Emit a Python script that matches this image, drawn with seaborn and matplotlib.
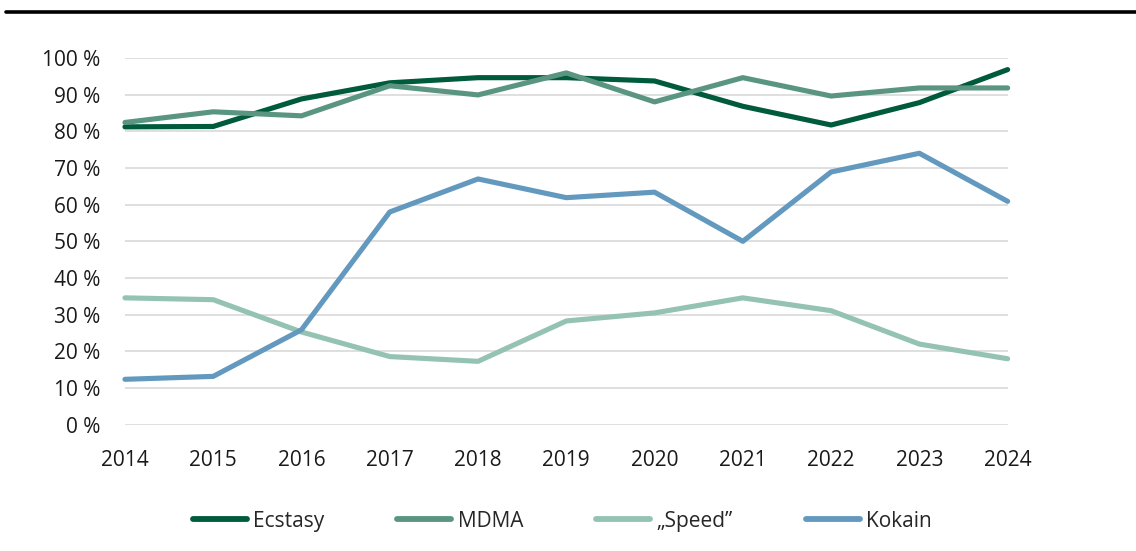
import matplotlib
matplotlib.use("Agg")
import matplotlib.pyplot as plt
import seaborn as sns
import pandas as pd
from matplotlib.lines import Line2D
from matplotlib.ticker import FuncFormatter

years = [2014, 2015, 2016, 2017, 2018, 2019, 2020, 2021, 2022, 2023, 2024]
ecstasy = [81.2, 81.3, 88.8, 93.2, 94.6, 94.6, 93.7, 86.8, 81.7, 87.8, 96.8]
mdma = [82.4, 85.3, 84.2, 92.4, 89.9, 95.9, 88.0, 94.6, 89.6, 91.8, 91.8]
speed = [34.6, 34.1, 25.3, 18.6, 17.3, 28.3, 30.5, 34.6, 31.1, 22.0, 18.0]
kokain = [12.4, 13.2, 25.9, 58.0, 67.0, 61.9, 63.4, 50.0, 68.9, 74.0, 60.9]
series_names = ["Ecstasy", "MDMA", "\u201eSpeed\u201d", "Kokain"]
colors = ["#005a3c", "#5a9582", "#95c3b3", "#6399be"]

rows = []
for name, vals in zip(series_names, [ecstasy, mdma, speed, kokain]):
    for y, v in zip(years, vals):
        rows.append({"Jahr": y, "Wert": v, "Serie": name})
df = pd.DataFrame(rows)

sns.set_theme(style="white")
plt.rcParams["font.family"] = ["Open Sans", "DejaVu Sans"]

fig = plt.figure(figsize=(11.36, 5.51), dpi=100)
ax = fig.add_axes([0.110, 0.229, 0.777, 0.666])

sns.lineplot(data=df, x="Jahr", y="Wert", hue="Serie", hue_order=series_names,
             palette=colors, linewidth=3.7, ax=ax, legend=False, sort=False)
for ln in ax.get_lines():
    ln.set_solid_capstyle("round")
    ln.set_solid_joinstyle("round")
    ln.set_clip_on(False)

ax.set_xlim(2014, 2024)
ax.set_ylim(0, 100)
ax.set_xticks(years)
ax.set_yticks(range(0, 101, 10))
ax.yaxis.set_major_formatter(FuncFormatter(lambda v, p: f"{int(v)} %"))
ax.set_xlabel("")
ax.set_ylabel("")
ax.grid(axis="y", color="#d9d9d9", linewidth=1.2)
ax.set_axisbelow(True)
for s in ax.spines.values():
    s.set_visible(False)
ax.tick_params(axis="both", length=0, labelsize=15, colors="#1a1a1a")
ax.tick_params(axis="x", pad=18)
ax.tick_params(axis="y", pad=18)

handles = [Line2D([0], [0], color=c, linewidth=4.2, solid_capstyle="round") for c in colors]
fig.legend(handles, series_names, loc="center", bbox_to_anchor=(0.495, 0.054),
           ncol=4, frameon=False, fontsize=15, handlelength=2.6,
           handletextpad=0.3, columnspacing=3.5)

fig.add_artist(Line2D([0.005, 1.0], [0.978, 0.978], color="black", linewidth=2.6,
                      transform=fig.transFigure))

fig.savefig("out.png", dpi=100)
